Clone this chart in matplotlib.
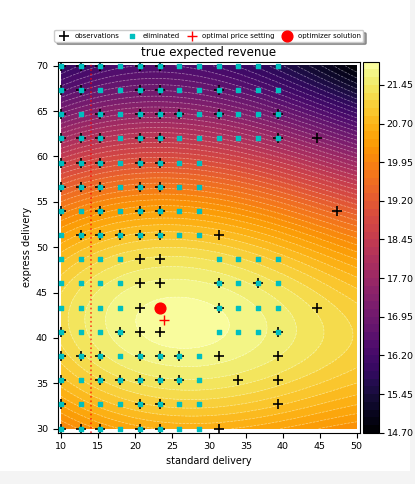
import numpy as np
import matplotlib
matplotlib.use('Agg')
import matplotlib.pyplot as plt

# price grid the optimizer works on (16 x 16)
grid_x = np.linspace(10, 50, 16)
grid_y = np.linspace(30, 70, 16)

# revenue at a few anchor prices (rows = express, cols = standard)
anchor_x = [10, 17, 24, 31, 40, 50]
anchor_y = [30, 36, 42, 48, 54, 62, 70]
anchor_rev = [
    [19.88, 20.39, 20.60, 20.60, 20.46, 20.10],
    [20.89, 21.25, 21.40, 21.40, 21.25, 20.89],
    [21.32, 21.76, 21.90, 21.79, 21.47, 21.11],
    [20.89, 21.29, 21.40, 21.32, 21.11, 20.68],
    [19.74, 20.17, 20.32, 20.24, 19.81, 19.16],
    [17.87, 18.30, 18.44, 18.30, 17.65, 16.79],
    [15.92, 16.21, 16.28, 16.21, 15.56, 14.77],
]

# observed price settings: row index on grid_y -> column indices on grid_x
observed = {
    15: [0, 1, 2, 4, 5],
    14: [0, 1, 4, 5, 8],
    13: [0, 2, 4, 5, 6, 8, 11],
    12: [0, 1, 2, 4, 5, 11, 13],
    11: [0, 1, 2, 4, 5],
    10: [0, 1, 2, 4, 5],
    9: [0, 2, 4, 5, 14],
    8: [1, 2, 3, 4, 5, 8],
    7: [4, 5],
    6: [4, 5, 8, 10],
    5: [4, 5, 8, 13],
    4: [0, 3, 4, 5, 11],
    3: [0, 1, 2, 4, 5, 6, 8, 11],
    2: [0, 2, 3, 4, 5, 6, 9, 11],
    1: [0, 4, 5, 11],
    0: [0, 1, 2, 4, 5, 8],
}

# eliminated price settings
eliminated = {}
for j in range(16):
    if j >= 12:
        eliminated[j] = list(range(12))
    elif 4 <= j <= 7:
        eliminated[j] = [0, 1, 2, 3, 8, 9, 10, 11]
    else:
        eliminated[j] = list(range(8))

optimal_price = (24.0, 42.0)
solver_price = (grid_x[5], grid_y[5])
min_standard_price = 14.0


def design(x, y, deg=4):
    u = (np.asarray(x) - 30) / 20
    v = (np.asarray(y) - 50) / 20
    cols = [u ** i * v ** k for i in range(deg + 1) for k in range(deg + 1 - i)]
    return np.stack(cols, axis=-1)


# smooth surface through the anchor values
ax_a, ay_a = np.meshgrid(anchor_x, anchor_y)
coef = np.linalg.lstsq(design(ax_a.ravel(), ay_a.ravel()),
                       np.array(anchor_rev).ravel(), rcond=None)[0]
X, Y = np.meshgrid(np.linspace(10, 50, 300), np.linspace(30, 70, 300))
Z = np.clip(design(X, Y) @ coef, 14.71, 21.89)

obs_x = [grid_x[i] for j in observed for i in observed[j]]
obs_y = [grid_y[j] for j in observed for i in observed[j]]
el_x = [grid_x[i] for j in eliminated for i in eliminated[j]]
el_y = [grid_y[j] for j in eliminated for i in eliminated[j]]

fig = plt.figure(figsize=(4.15, 4.84), dpi=100)
fig.patch.set_facecolor('#f4f4f4')
fig.patches.append(plt.Rectangle((0, 13 / 484), 410 / 415, 1, transform=fig.transFigure,
                                 facecolor='white', edgecolor='none', zorder=-10))

ax = fig.add_axes([0.139, 0.106, 0.7285, 0.7665])
cax = fig.add_axes([0.875, 0.106, 0.0386, 0.7665])

levels = np.arange(14.70, 21.90 + 0.01, 0.15)
cf = ax.contourf(X, Y, Z, levels=levels, cmap='inferno')
ax.contour(X, Y, Z, levels=levels, colors='white', linewidths=0.5, alpha=0.45,
           linestyles='dashed')

ax.scatter(obs_x, obs_y, marker='+', c='k', s=42, linewidths=1.2, label='observations', zorder=3)
ax.scatter(el_x, el_y, marker='s', c='c', s=5, label='eliminated', zorder=4)
ax.scatter(*optimal_price, marker='+', c='r', s=45, linewidths=1.0,
           label='optimal price setting', zorder=5)
ax.scatter(*solver_price, marker='o', c='r', s=60, label='optimizer solution', zorder=6)
ax.axvline(min_standard_price, color='red', alpha=0.7, ls=':', lw=1.2, zorder=2)

ax.set_xlim(9.55, 50.45)
ax.set_ylim(29.55, 70.45)
ax.set_xticks(np.arange(10, 51, 5))
ax.set_yticks(np.arange(30, 71, 5))
ax.tick_params(labelsize=6.8)
ax.set_xlabel('standard delivery', fontsize=7, labelpad=3)
ax.set_ylabel('express delivery', fontsize=7, labelpad=3)
ax.set_title('true expected revenue', fontsize=8.5, pad=4)
ax.legend(loc='lower center', bbox_to_anchor=(0.5, 1.045), ncol=4, fontsize=5,
          shadow=True, fancybox=True, handletextpad=0.5, columnspacing=0.8,
          borderpad=0.4)

cb = fig.colorbar(cf, cax=cax, ticks=np.arange(14.70, 21.46, 0.75), format='%.2f')
cb.ax.tick_params(labelsize=6.8, pad=2)

fig.savefig('out.png', dpi=100)
